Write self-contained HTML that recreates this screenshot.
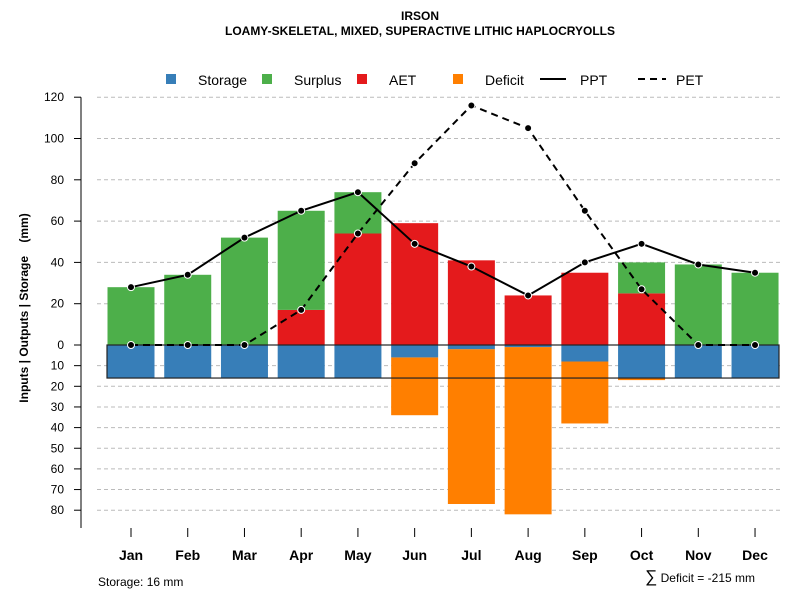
<!DOCTYPE html>
<html><head><meta charset="utf-8"><style>body{margin:0;background:#fff}svg{font-family:"Liberation Sans",sans-serif}</style></head>
<body>
<svg id="chart" width="800" height="600">
<text x="420" y="20" text-anchor="middle" font-size="12" font-weight="bold">IRSON</text>
<text x="420" y="35" text-anchor="middle" font-size="12" font-weight="bold">LOAMY-SKELETAL, MIXED, SUPERACTIVE LITHIC HAPLOCRYOLLS</text>
<g id="legend" font-size="14">
<rect x="166" y="74" width="10" height="10" fill="#377eb8"/><text x="198" y="85">Storage</text>
<rect x="262" y="74" width="10" height="10" fill="#4daf4a"/><text x="294" y="85">Surplus</text>
<rect x="357" y="74" width="10" height="10" fill="#e41a1c"/><text x="389" y="85">AET</text>
<rect x="453" y="74" width="10" height="10" fill="#ff7f00"/><text x="485" y="85">Deficit</text>
<line x1="540" y1="79" x2="566" y2="79" stroke="#000" stroke-width="2"/><text x="580" y="85">PPT</text>
<line x1="638" y1="79" x2="666" y2="79" stroke="#000" stroke-width="2" stroke-dasharray="7,5"/><text x="676" y="85">PET</text>
</g>
<text transform="translate(28,308) rotate(-90)" text-anchor="middle" font-size="12" font-weight="bold">Inputs | Outputs | Storage&#160;&#160;&#160;&#160;(mm)</text>
<text x="98" y="586" font-size="12">Storage: 16 mm</text>
<text x="755" y="582" text-anchor="end" font-size="12"><tspan font-size="17">∑</tspan> Deficit = -215 mm</text>
</svg>
<script>
const months=["Jan","Feb","Mar","Apr","May","Jun","Jul","Aug","Sep","Oct","Nov","Dec"];
const aet=[0,0,0,17,54,59,41,24,35,25,0,0];
const surplus=[28,34,52,48,20,0,0,0,0,15,39,35];
const storage=[16,16,16,16,16,6,2,1,8,16,16,16];
const deficit=[0,0,0,0,0,28,75,81,30,1,0,0];
const ppt=[28,34,52,65,74,49,38,24,40,49,39,35];
const pet=[0,0,0,17,54,88,116,105,65,27,0,0];
const posTicks=[0,20,40,60,80,100,120];
const negTicks=[10,20,30,40,50,60,70,80];
const storageCap=16;
const NS="http://www.w3.org/2000/svg";
const svg=document.getElementById('chart');
const y0=345,k=2.065;
const Y=v=>y0-v*k;
const X=i=>131+i*56.73;
const bw=47;
function mk(t,a,p){const e=document.createElementNS(NS,t);for(const n in a)e.setAttribute(n,a[n]);(p||svg).appendChild(e);return e;}
const grid=mk('g',{});


posTicks.concat(negTicks.map(v=>-v)).forEach(v=>{
 if(v!==0){const l=mk('line',{x1:97,x2:780,y1:Y(v),y2:Y(v),stroke:'#bbb','stroke-dasharray':'4,3'},grid);
 
 }
});
const bars=mk('g',{});


function bar(i,top,bot,col,name){const r=mk('rect',{x:X(i)-bw/2,y:Y(top),width:bw,height:Math.max(0,Y(bot)-Y(top)),fill:col},bars);

}
months.forEach((m,i)=>{
 bar(i,aet[i],0,'#e41a1c','bar-aet-'+m.toLowerCase());
 bar(i,aet[i]+surplus[i],aet[i],'#4daf4a','bar-surplus-'+m.toLowerCase());
 bar(i,-storage[i],-storage[i]-deficit[i],'#ff7f00','bar-deficit-'+m.toLowerCase());
 bar(i,0,-storage[i],'#377eb8','bar-storage-'+m.toLowerCase());
});
const sb=mk('rect',{x:107,y:Y(0),width:672,height:Y(-storageCap)-Y(0),fill:'none',stroke:'#222','stroke-width':1.2});


function series(vals,dash,name){
 const p=mk('polyline',{points:vals.map((v,i)=>X(i)+','+Y(v)).join(' '),fill:'none',stroke:'#000','stroke-width':2,'stroke-dasharray':dash});
 
 
 vals.forEach((v,i)=>{const c=mk('circle',{cx:X(i),cy:Y(v),r:3.5,fill:'#000',stroke:'#fff','stroke-width':1});
 
 });
}
series(pet,'7,5','pet');
series(ppt,'none','ppt');
const ax=mk('g',{});


mk('line',{x1:81,x2:81,y1:Y(120),y2:528,stroke:'#000'},ax);
posTicks.forEach(v=>{mk('line',{x1:74,x2:81,y1:Y(v),y2:Y(v),stroke:'#000'},ax);
 const t=mk('text',{x:64,y:Y(v)+4,'text-anchor':'end','font-size':12},ax);t.textContent=v;
 
 });
negTicks.forEach(v=>{mk('line',{x1:74,x2:81,y1:Y(-v),y2:Y(-v),stroke:'#000'},ax);
 const t=mk('text',{x:64,y:Y(-v)+4,'text-anchor':'end','font-size':12},ax);t.textContent=v;
 
 });
const xa=mk('g',{});


months.forEach((m,i)=>{mk('line',{x1:X(i),x2:X(i),y1:528,y2:537,stroke:'#000'},xa);
 const t=mk('text',{x:X(i),y:560,'text-anchor':'middle','font-size':14,'font-weight':'bold'},xa);t.textContent=m;
 
 });
</script>
</body></html>
